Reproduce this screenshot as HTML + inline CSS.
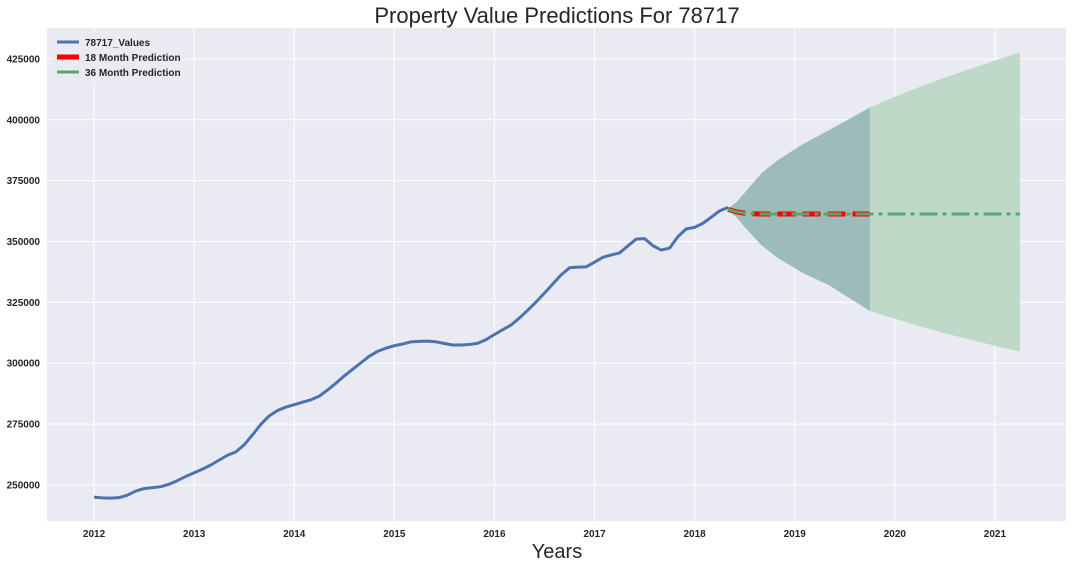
<!DOCTYPE html>
<html><head><meta charset="utf-8"><style>
body{margin:0;background:#fff;}
svg text{font-family:"Liberation Sans",sans-serif;}
</style></head><body>
<svg id="chart" width="1072" height="568" xmlns="http://www.w3.org/2000/svg">
<rect x="47" y="28" width="1019" height="493" fill="#eaeaf2"/>
<g id="grid"></g><g id="fills"></g><g id="lines"></g><g id="ticks"></g>
<text x="557" y="23" font-size="22" text-anchor="middle" fill="#262626">Property Value Predictions For 78717</text>
<text x="557" y="558" font-size="20" text-anchor="middle" fill="#262626">Years</text>
<g>
<rect x="52" y="32" width="134" height="50" fill="#eaeaf2" rx="3"/>
<g><line x1="57" y1="42" x2="79" y2="42" stroke="#4c72b0" stroke-width="3"/><text x="85" y="46" font-size="10" font-weight="bold" fill="#262626">78717_Values</text></g>
<g><line x1="57" y1="57" x2="79" y2="57" stroke="#ff0000" stroke-width="5"/><text x="85" y="61" font-size="10" font-weight="bold" fill="#262626">18 Month Prediction</text></g>
<g><line x1="57" y1="72" x2="79" y2="72" stroke="#55a868" stroke-width="3"/><text x="85" y="76" font-size="10" font-weight="bold" fill="#262626">36 Month Prediction</text></g>
</g>
</svg>
<script>
const years=[2012,2013,2014,2015,2016,2017,2018,2019,2020,2021];
const yTicks=[250000,275000,300000,325000,350000,375000,400000,425000];
const histStart=2012;
const historical=[245000,244700,244600,244800,245800,247500,248500,248900,249300,250300,251800,253500,
255000,256500,258200,260200,262200,263600,266500,270600,274900,278400,280600,282000,
283000,284000,285000,286500,289000,291800,294800,297500,300200,302900,304900,306200,
307200,307900,308800,309000,309100,308800,308100,307500,307500,307700,308200,309700,
311800,313800,315700,318600,321800,325200,328800,332600,336300,339200,339500,339600,
341500,343500,344500,345300,348200,351000,351200,348300,346500,347300,352000,355200,
355800,357500,360000,362600,364000];
const predStart=2018.333;
const predMean=[363200,362200,361600,361400,361300,361300,361300,361300,361300,361300,361300,361300,
361300,361300,361300,361300,361300,361300,361300,361300,361300,361300,361300,361300,
361300,361300,361300,361300,361300,361300,361300,361300,361300,361300,361300,361300];
// confidence band knots (month offset from predStart)
const ciMonths=[0,1,2,4,6,9,12,17,20,23,26,29,32,35];
const ciUpper=[363500,366000,370000,378000,383500,390000,395500,405000,409500,413500,417300,420800,424300,427800];
const ciLower=[363000,360000,356000,348500,343200,337000,332300,321500,318300,315200,312300,309700,307200,304800];

const X0=47,X1=1066,Y0=521,Y1=28,xmin=2011.53,xmax=2021.71,ymin=235200,ymax=437700;
const xs=v=>X0+(v-xmin)/(xmax-xmin)*(X1-X0);
const ys=v=>Y0-(v-ymin)/(ymax-ymin)*(Y0-Y1);
const NS="http://www.w3.org/2000/svg";
function mk(tag,parent,attrs){const e=document.createElementNS(NS,tag);for(const k in attrs)e.setAttribute(k,attrs[k]);document.getElementById(parent).appendChild(e);return e;}
years.forEach(y=>{
 const g=mk('line','grid',{x1:xs(y),x2:xs(y),y1:Y1,y2:Y0,stroke:'#fff','stroke-width':1});
 
 
 const t=mk('text','ticks',{x:xs(y),y:537,'font-size':10,'font-weight':'bold','text-anchor':'middle',fill:'#262626'});
 t.textContent=y;
 
 
});
yTicks.forEach(v=>{
 const g=mk('line','grid',{x1:X0,x2:X1,y1:ys(v),y2:ys(v),stroke:'#fff','stroke-width':1});
 
 
 const t=mk('text','ticks',{x:40,y:ys(v)+3.5,'font-size':10,'font-weight':'bold','text-anchor':'end',fill:'#262626'});
 t.textContent=v;
 
 
});
function band(maxMonth){let up=[],lo=[];for(let i=0;i<ciMonths.length;i++){if(ciMonths[i]>maxMonth)break;const x=xs(predStart+ciMonths[i]/12);up.push(x+','+ys(ciUpper[i]));lo.unshift(x+','+ys(ciLower[i]));}return up.concat(lo).join(' ');}
const f36=mk('polygon','fills',{points:band(35),fill:'#bed9c8'});


const f18=mk('polygon','fills',{points:band(17),fill:'#9dbcb9'});


const hp=historical.map((v,i)=>xs(histStart+i/12)+','+ys(v)).join(' ');
const h=mk('polyline','lines',{points:hp,fill:'none',stroke:'#4c72b0','stroke-width':3,'stroke-linejoin':'round'});


const p18=predMean.slice(0,18).map((v,i)=>xs(predStart+i/12)+','+ys(v)).join(' ');
const r=mk('polyline','lines',{points:p18,fill:'none',stroke:'#ff0000','stroke-width':5,'stroke-dasharray':'18,7'});


const p36=predMean.map((v,i)=>xs(predStart+i/12)+','+ys(v)).join(' ');
const gl=mk('polyline','lines',{points:p36,fill:'none',stroke:'#55a868','stroke-width':3,'stroke-dasharray':'18,5,4,5'});


</script>
</body></html>
